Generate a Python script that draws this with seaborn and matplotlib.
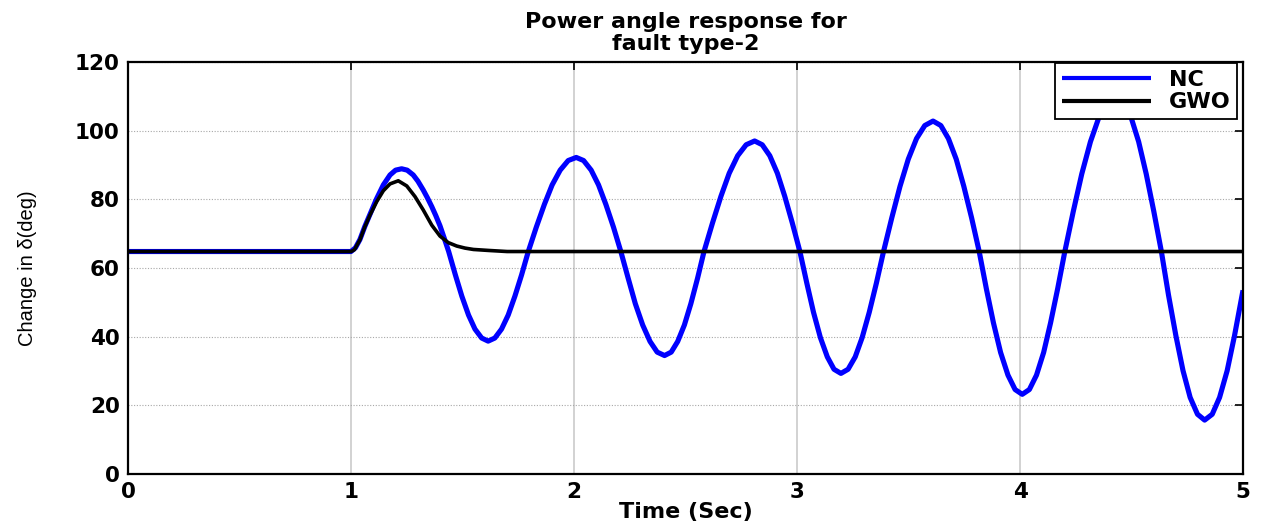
import matplotlib
matplotlib.use("Agg")
import matplotlib.pyplot as plt
import seaborn as sns

# Rotor angle swing after fault type-2: uncontrolled (NC) vs GWO-tuned controller
nc_time = [
    0.0, 1.0, 1.02, 1.04, 1.062, 1.085, 1.115, 1.145, 1.175, 1.2, 1.227,
    1.252, 1.279, 1.30, 1.324, 1.343, 1.362, 1.38, 1.399, 1.418, 1.438,
    1.468, 1.497, 1.527, 1.556, 1.586, 1.615,
    1.645, 1.675, 1.705, 1.735, 1.765, 1.795,
    1.831, 1.867, 1.902, 1.938, 1.974, 2.010,
    2.043, 2.077, 2.110, 2.143, 2.177, 2.210,
    2.243, 2.275, 2.308, 2.341, 2.373, 2.406,
    2.436, 2.465, 2.495, 2.524, 2.554, 2.583,
    2.621, 2.659, 2.696, 2.734, 2.772, 2.810,
    2.844, 2.878, 2.912, 2.945, 2.979, 3.013,
    3.044, 3.074, 3.105, 3.136, 3.166, 3.197,
    3.229, 3.261, 3.292, 3.324, 3.356, 3.388,
    3.425, 3.462, 3.499, 3.536, 3.573, 3.610,
    3.645, 3.679, 3.714, 3.748, 3.783, 3.817,
    3.849, 3.881, 3.913, 3.946, 3.978, 4.010,
    4.042, 4.074, 4.106, 4.137, 4.169, 4.201,
    4.239, 4.277, 4.316, 4.354, 4.392, 4.430,
    4.464, 4.498, 4.532, 4.566, 4.600, 4.634,
    4.666, 4.699, 4.731, 4.763, 4.796, 4.828,
    4.862, 4.895, 4.929, 4.962, 5.0,
]
nc_delta = [
    64.8, 64.8, 65.9, 68.3, 72.1, 75.6, 80.2, 84.2, 87.1, 88.5, 88.9,
    88.5, 87.1, 85.3, 82.7, 80.4, 77.9, 75.3, 72.3, 68.7, 64.8,
    58.0, 51.8, 46.3, 42.2, 39.6, 38.7,
    39.6, 42.2, 46.3, 51.8, 58.0, 64.8,
    71.9, 78.5, 84.2, 88.5, 91.3, 92.2,
    91.3, 88.5, 84.2, 78.5, 71.9, 64.8,
    57.0, 49.6, 43.4, 38.6, 35.5, 34.5,
    35.5, 38.6, 43.4, 49.6, 57.0, 64.8,
    73.1, 80.9, 87.6, 92.7, 95.9, 97.0,
    95.9, 92.7, 87.6, 80.9, 73.1, 64.8,
    55.6, 47.1, 39.7, 34.1, 30.5, 29.3,
    30.5, 34.1, 39.7, 47.1, 55.6, 64.8,
    74.6, 83.8, 91.7, 97.7, 101.5, 102.8,
    101.5, 97.7, 91.7, 83.8, 74.6, 64.8,
    54.0, 44.0, 35.4, 28.8, 24.6, 23.2,
    24.6, 28.8, 35.4, 44.0, 54.0, 64.8,
    76.5, 87.4, 96.8, 103.9, 108.5, 110.0,
    108.5, 103.9, 96.8, 87.4, 76.5, 64.8,
    52.1, 40.3, 30.1, 22.3, 17.4, 15.7,
    17.4, 22.3, 30.1, 40.3, 53.5,
]

gwo_time = [
    0.0, 1.0, 1.015, 1.04, 1.062, 1.085, 1.115, 1.145, 1.175, 1.212,
    1.25, 1.287, 1.324, 1.362, 1.399, 1.436, 1.474, 1.511, 1.549,
    1.62, 1.7, 5.0,
]
gwo_delta = [
    64.8, 64.8, 65.3, 68.2, 72.0, 75.4, 79.3, 82.5, 84.5, 85.4,
    83.9, 80.8, 76.9, 72.5, 69.3, 67.4, 66.4, 65.8, 65.4,
    65.1, 64.8, 64.8,
]

x_ticks = [0, 1, 2, 3, 4, 5]
y_ticks = [0, 20, 40, 60, 80, 100, 120]

sns.set_style("white")
plt.rcParams["font.family"] = ["DejaVu Sans"]
plt.rcParams["text.color"] = "black"
plt.rcParams["axes.labelcolor"] = "black"

fig = plt.figure(figsize=(12.61, 5.29), dpi=100)
ax = fig.add_axes([128 / 1261, 55 / 529, 1115 / 1261, 412 / 529])

sns.lineplot(x=nc_time, y=nc_delta, ax=ax, color="#0000ff", lw=3.7,
             label="NC", sort=False, estimator=None,
             solid_capstyle="butt", solid_joinstyle="round")
sns.lineplot(x=gwo_time, y=gwo_delta, ax=ax, color="black", lw=2.6,
             label="GWO", sort=False, estimator=None,
             solid_capstyle="butt", solid_joinstyle="round")

ax.set_xlim(0, 5)
ax.set_ylim(0, 120)
ax.set_xticks(x_ticks)
ax.set_yticks(y_ticks)

ax.xaxis.grid(True, color="#cfcfcf", lw=1.3, ls="-")
ax.yaxis.grid(True, color="#a8a8a8", lw=0.8, ls=(0, (1, 1.5)))
ax.set_axisbelow(True)

for side in ["left", "bottom", "right", "top"]:
    ax.spines[side].set_visible(True)
    ax.spines[side].set_color("black")
    ax.spines[side].set_linewidth(1.6)

ax.tick_params(direction="in", length=6, width=1.2, top=True, right=True,
               labelsize=15.5, pad=6, colors="black")
for lbl in ax.get_xticklabels() + ax.get_yticklabels():
    lbl.set_fontweight("bold")

ax.set_title("Power angle response for\nfault type-2", fontsize=16,
             fontweight="bold", linespacing=1.12, pad=9, color="black")
ax.set_xlabel("Time (Sec)", fontsize=16, fontweight="bold", labelpad=0)
ax.set_ylabel("Change in δ(deg)", fontsize=14.5,
              family=["Liberation Sans", "DejaVu Sans"])
ax.yaxis.set_label_coords(-0.0816, 0.5)

leg = ax.legend(loc="upper right", bbox_to_anchor=(0.9946, 0.9976),
                borderaxespad=0, prop={"weight": "bold", "size": 16},
                handlelength=4.0, handletextpad=0.8, labelspacing=0.12,
                borderpad=0.3, frameon=True, fancybox=False,
                edgecolor="black", framealpha=1)
leg.get_frame().set_linewidth(1.3)
for h in leg.get_lines():
    h.set_linewidth(3.0)

fig.savefig("out.png", dpi=100, facecolor="white")
